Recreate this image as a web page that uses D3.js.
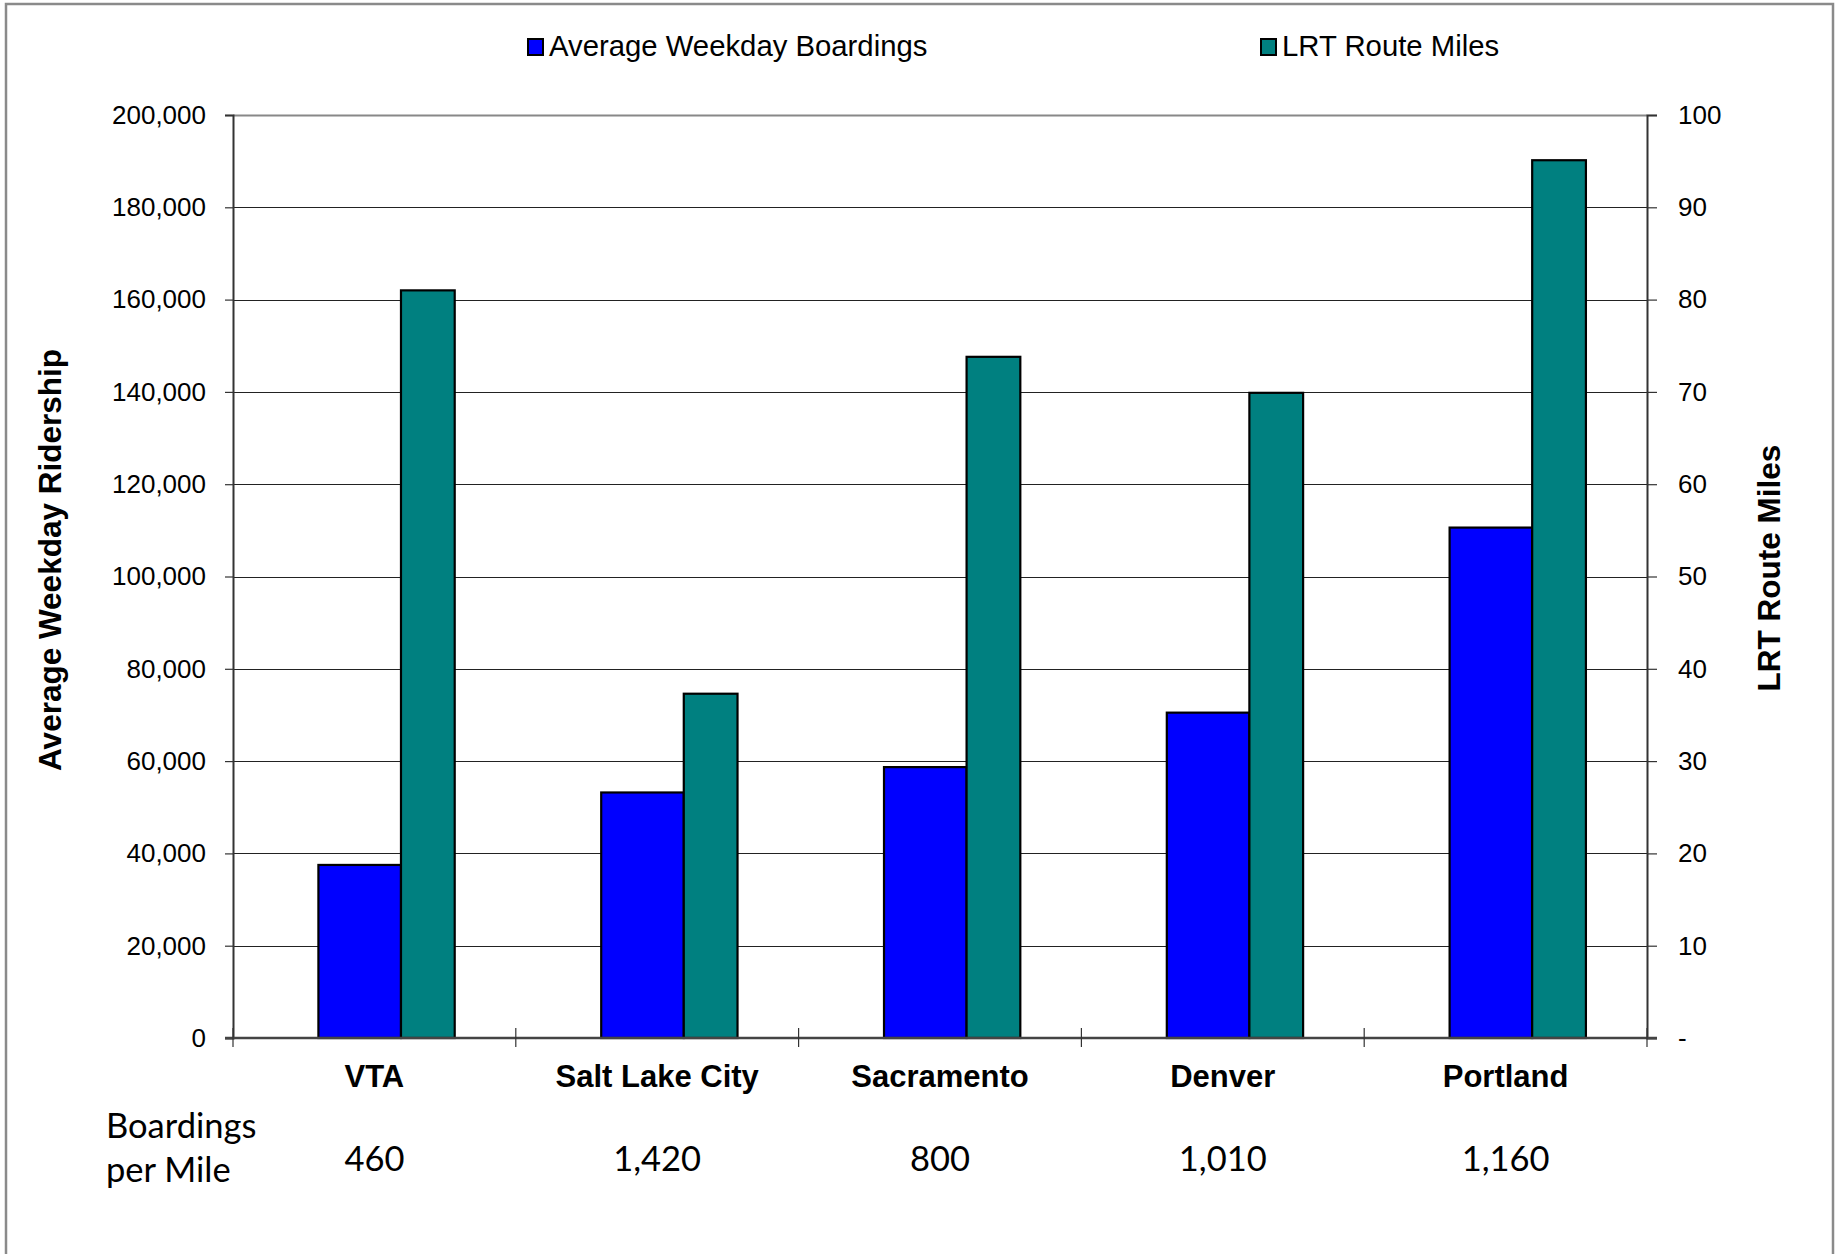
<!DOCTYPE html>
<html>
<head>
<meta charset="utf-8">
<script src="https://cdn.jsdelivr.net/npm/d3@7"></script>
<style>
  body { margin: 0; background: #fff; }
  svg text { font-family: "Liberation Sans", Arial, Helvetica, sans-serif; fill: #000; }
  .note { font-family: Lato, Carlito, "Open Sans", sans-serif !important; }
</style>
</head>
<body>
<svg id="chart" width="1837" height="1254"></svg>
<script>
// Light-rail systems compared
const cities = ["VTA", "Salt Lake City", "Sacramento", "Denver", "Portland"];
// Average weekday boardings (left axis)
const weekdayBoardings = [37500, 53200, 58700, 70500, 110600];
// LRT route miles (right axis)
const routeMiles = [81.0, 37.3, 73.8, 69.9, 95.1];
// Boardings per route mile, printed under each city
const boardingsPerMile = ["460", "1,420", "800", "1,010", "1,160"];
// Axis ticks
const leftTicks = [0, 20000, 40000, 60000, 80000, 100000, 120000, 140000, 160000, 180000, 200000];
const rightTicks = [0, 10, 20, 30, 40, 50, 60, 70, 80, 90, 100];
const seriesNames = ["Average Weekday Boardings", "LRT Route Miles"];
const seriesColors = ["#0000FF", "#008080"];

const svg = d3.select("#chart");
const plot = { left: 233, right: 1647, top: 115, bottom: 1038 };

const x = d3.scaleBand().domain(cities).range([plot.left, plot.right]).padding(0);
const yL = d3.scaleLinear().domain([0, 200000]).range([plot.bottom, plot.top]);
const yR = d3.scaleLinear().domain([0, 100]).range([plot.bottom, plot.top]);
const bw = x.bandwidth();

// outer frame
svg.append("rect")
  .attr("x", 6).attr("y", 4).attr("width", 1827).attr("height", 1320)
  .attr("fill", "none").attr("stroke", "#8a8a8a").attr("stroke-width", 2.5);

// horizontal gridlines
svg.append("g").selectAll("line")
  .data(leftTicks.filter(d => d > 0))
  .join("line")
  .attr("x1", plot.left).attr("x2", plot.right)
  .attr("y1", d => Math.round(yL(d)) + 0.5).attr("y2", d => Math.round(yL(d)) + 0.5)
  .attr("stroke", d => d === 200000 ? "#888" : "#222")
  .attr("stroke-width", d => d === 200000 ? 2 : 1);

// bars: boardings on the left scale, route miles on the right scale
const groups = svg.append("g").selectAll("g")
  .data(cities)
  .join("g");

groups.append("rect")
  .attr("x", (d) => x(d) + bw * 0.302)
  .attr("width", bw * 0.292)
  .attr("y", (d, i) => yL(weekdayBoardings[i]))
  .attr("height", (d, i) => yL(0) - yL(weekdayBoardings[i]))
  .attr("fill", seriesColors[0]).attr("stroke", "#000").attr("stroke-width", 2.2);

groups.append("rect")
  .attr("x", (d) => x(d) + bw * 0.594)
  .attr("width", bw * 0.19)
  .attr("y", (d, i) => yR(routeMiles[i]))
  .attr("height", (d, i) => yR(0) - yR(routeMiles[i]))
  .attr("fill", seriesColors[1]).attr("stroke", "#000").attr("stroke-width", 2.2);

// left axis
const axL = svg.append("g")
  .attr("transform", `translate(${plot.left},0)`)
  .call(d3.axisLeft(yL).tickValues(leftTicks).tickFormat(d3.format(",")).tickSize(8).tickPadding(19));
axL.select(".domain").attr("stroke", "#333").attr("stroke-width", 2);
axL.selectAll(".tick line").attr("stroke", "#333").attr("stroke-width", 1.2);
axL.selectAll(".tick text").attr("font-size", 26).attr("font-family", "'Liberation Sans', Arial, sans-serif");

// right axis
const axR = svg.append("g")
  .attr("transform", `translate(${plot.right},0)`)
  .call(d3.axisRight(yR).tickValues(rightTicks).tickFormat(d => d === 0 ? "-" : d).tickSize(10).tickPadding(21));
axR.select(".domain").attr("stroke", "#333").attr("stroke-width", 2);
axR.selectAll(".tick line").attr("stroke", "#333").attr("stroke-width", 1.2);
axR.selectAll(".tick text").attr("font-size", 26).attr("font-family", "'Liberation Sans', Arial, sans-serif");

// category axis baseline and boundary ticks
svg.append("line")
  .attr("x1", plot.left - 8).attr("x2", plot.right + 10)
  .attr("y1", plot.bottom).attr("y2", plot.bottom)
  .attr("stroke", "#444").attr("stroke-width", 2.5);
const bounds = cities.map(c => x(c)).concat([plot.right]);
svg.append("g").selectAll("line")
  .data(bounds)
  .join("line")
  .attr("x1", d => d).attr("x2", d => d)
  .attr("y1", plot.bottom - 10).attr("y2", plot.bottom + 9)
  .attr("stroke", "#333").attr("stroke-width", 1.2);

// category labels
svg.append("g").selectAll("text")
  .data(cities)
  .join("text")
  .attr("x", d => x(d) + bw / 2)
  .attr("y", 1087)
  .attr("text-anchor", "middle")
  .attr("font-size", 31).attr("font-weight", "bold")
  .text(d => d);

// axis titles
svg.append("text")
  .attr("transform", "translate(61,560) rotate(-90)")
  .attr("text-anchor", "middle")
  .attr("font-size", 31.5).attr("font-weight", "bold")
  .text("Average Weekday Ridership");

svg.append("text")
  .attr("transform", "translate(1780,568) rotate(-90)")
  .attr("text-anchor", "middle")
  .attr("font-size", 31.5).attr("font-weight", "bold")
  .text("LRT Route Miles");

// legend
const legendX = [528, 1261];
const legend = svg.append("g").selectAll("g")
  .data(seriesNames)
  .join("g")
  .attr("transform", (d, i) => `translate(${legendX[i]},39)`);
legend.append("rect")
  .attr("width", 15).attr("height", 16)
  .attr("fill", (d, i) => seriesColors[i])
  .attr("stroke", "#000").attr("stroke-width", 2);
legend.append("text")
  .attr("x", 21).attr("y", 17)
  .attr("font-size", 29.3)
  .text(d => d);

// boardings per mile row
svg.append("text").attr("class", "note")
  .attr("x", 106).attr("y", 1138)
  .attr("font-size", 34.5)
  .text("Boardings");
svg.append("text").attr("class", "note")
  .attr("x", 106).attr("y", 1182)
  .attr("font-size", 34.5)
  .text("per Mile");
svg.append("g").selectAll("text")
  .data(cities)
  .join("text").attr("class", "note")
  .attr("x", d => x(d) + bw / 2)
  .attr("y", 1171)
  .attr("text-anchor", "middle")
  .attr("font-size", 34.5)
  .text((d, i) => boardingsPerMile[i]);
</script>
</body>
</html>
